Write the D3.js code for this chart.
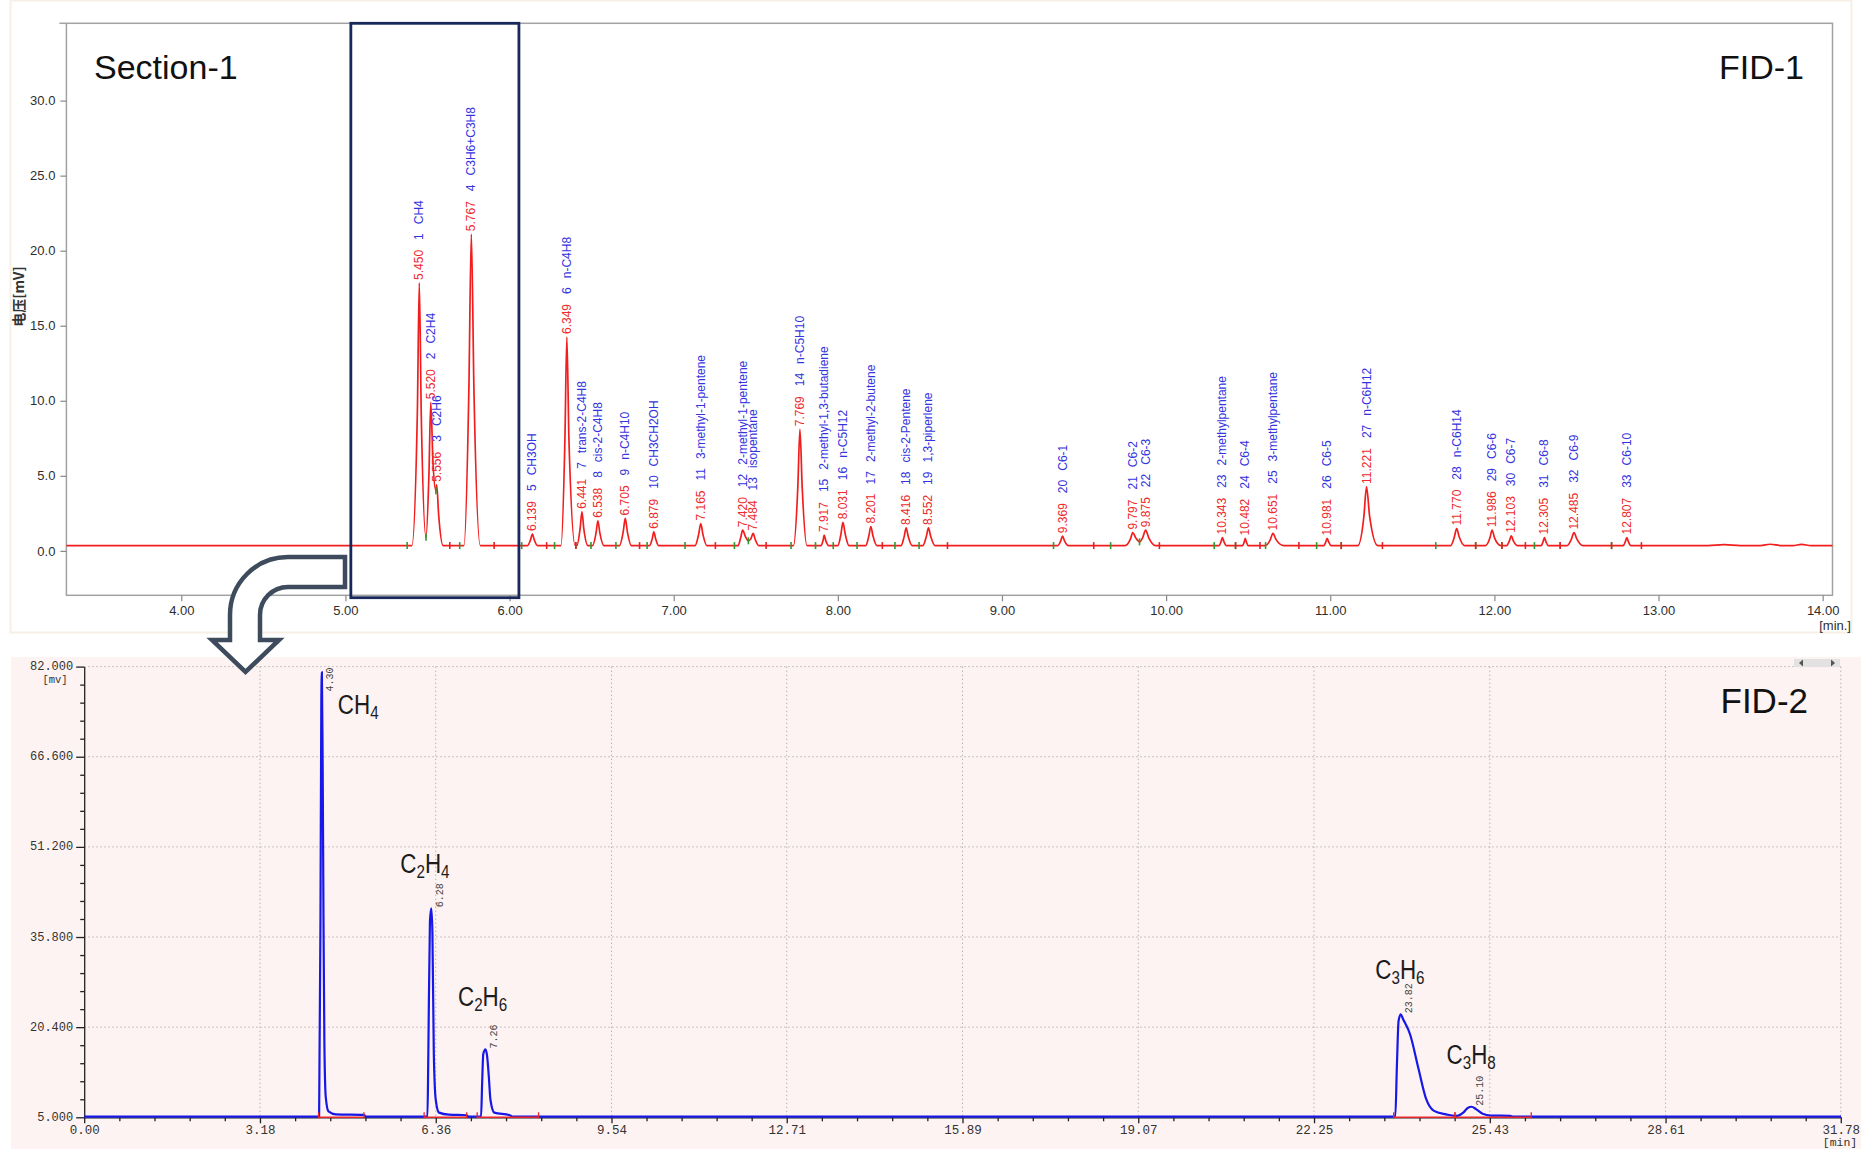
<!DOCTYPE html>
<html>
<head>
<meta charset="utf-8">
<script src="https://cdn.jsdelivr.net/npm/d3@7"></script>
<style>
  html, body { margin: 0; padding: 0; background: #fff; }
  svg { display: block; }
</style>
</head>
<body>
<svg id="chart" width="1861" height="1149"></svg>
<script>
// ---------- FID-1 (section 1) peak table ----------
const fid1Times = [5.450, 5.520, 5.556, 5.767, 6.139, 6.349, 6.441, 6.538, 6.705, 6.879,
  7.165, 7.420, 7.484, 7.769, 7.917, 8.031, 8.201, 8.416, 8.552, 9.369,
  9.797, 9.875, 10.343, 10.482, 10.651, 10.981, 11.221, 11.770, 11.986, 12.103,
  12.305, 12.485, 12.807];
const fid1Heights = [17.85, 9.9, 4.4, 21.1, 1.12, 14.25, 2.6, 2.0, 2.16, 1.27,
  1.82, 1.38, 1.16, 8.1, 1.05, 1.9, 1.62, 1.53, 1.53, 0.98,
  1.22, 1.38, 0.89, 0.83, 1.16, 0.83, 4.26, 1.49, 1.38, 1.0,
  0.89, 1.22, 0.89];
const fid1Numbers = [1, 2, 3, 4, 5, 6, 7, 8, 9, 10, 11, 12, 13, 14, 15, 16, 17, 18, 19, 20,
  21, 22, 23, 24, 25, 26, 27, 28, 29, 30, 31, 32, 33];
const fid1Names = ["CH4", "C2H4", "C2H6", "C3H6+C3H8", "CH3OH", "n-C4H8", "trans-2-C4H8",
  "cis-2-C4H8", "n-C4H10", "CH3CH2OH", "3-methyl-1-pentene", "2-methyl-1-pentene",
  "isopentane", "n-C5H10", "2-methyl-1,3-butadiene", "n-C5H12", "2-methyl-2-butene",
  "cis-2-Pentene", "1,3-piperlene", "C6-1", "C6-2", "C6-3", "2-methylpentane", "C6-4",
  "3-methylpentane", "C6-5", "n-C6H12", "n-C6H14", "C6-6", "C6-7", "C6-8", "C6-9", "C6-10"];

// FID-1 signal between the apexes: baseline, peak feet, half-height points, valleys [min, mV]
const fid1Flanks = [
  [3.30, 0.35],
  [5.405, 0.35], [5.438, 9.1], [5.462, 9.1], [5.491, 0.9],
  [5.509, 5.2], [5.533, 6.0], [5.551, 4.0],
  [5.568, 2.4], [5.595, 0.35],
  [5.722, 0.35], [5.752, 10.7], [5.783, 10.7], [5.822, 0.35],
  [6.110, 0.35], [6.128, 0.75], [6.150, 0.75], [6.170, 0.35],
  [6.313, 0.35], [6.337, 7.3], [6.362, 7.3], [6.400, 0.35],
  [6.410, 0.35], [6.430, 1.5], [6.452, 1.5], [6.478, 0.35],
  [6.505, 0.35], [6.527, 1.2], [6.550, 1.2], [6.575, 0.35],
  [6.670, 0.35], [6.692, 1.25], [6.718, 1.25], [6.742, 0.35],
  [6.853, 0.35], [6.869, 0.8], [6.890, 0.8], [6.908, 0.35],
  [7.130, 0.35], [7.152, 1.1], [7.178, 1.1], [7.202, 0.35],
  [7.392, 0.35], [7.408, 0.87], [7.437, 0.95], [7.455, 0.67], [7.470, 0.8], [7.497, 0.75], [7.518, 0.35],
  [7.730, 0.35], [7.756, 4.2], [7.783, 4.2], [7.812, 0.35],
  [7.898, 0.35], [7.910, 0.7], [7.926, 0.7], [7.945, 0.35],
  [8.000, 0.35], [8.019, 1.12], [8.045, 1.12], [8.068, 0.35],
  [8.170, 0.35], [8.189, 1.0], [8.214, 1.0], [8.238, 0.35],
  [8.385, 0.35], [8.404, 0.95], [8.429, 0.95], [8.452, 0.35],
  [8.518, 0.35], [8.539, 0.95], [8.566, 0.95], [8.592, 0.35],
  [9.340, 0.35], [9.358, 0.67], [9.381, 0.67], [9.405, 0.35],
  [9.750, 0.35], [9.783, 0.8], [9.816, 0.85], [9.838, 0.6], [9.858, 0.9], [9.895, 0.85], [9.935, 0.35],
  [10.322, 0.35], [10.335, 0.62], [10.352, 0.62], [10.368, 0.35],
  [10.465, 0.35], [10.476, 0.6], [10.489, 0.6], [10.500, 0.35],
  [10.605, 0.35], [10.635, 0.75], [10.670, 0.75], [10.718, 0.35],
  [10.960, 0.35], [10.973, 0.6], [10.990, 0.6], [11.005, 0.35],
  [11.168, 0.35], [11.205, 2.3], [11.240, 2.3], [11.290, 0.35],
  [11.733, 0.35], [11.756, 0.92], [11.786, 0.92], [11.818, 0.35],
  [11.946, 0.35], [11.973, 0.87], [12.001, 0.87], [12.040, 0.35],
  [12.075, 0.35], [12.092, 0.68], [12.115, 0.68], [12.140, 0.35],
  [12.285, 0.35], [12.297, 0.62], [12.314, 0.62], [12.328, 0.35],
  [12.443, 0.35], [12.470, 0.8], [12.502, 0.8], [12.540, 0.35],
  [12.785, 0.35], [12.798, 0.62], [12.816, 0.62], [12.832, 0.35],
  [13.30, 0.35], [13.40, 0.41], [13.50, 0.35], [13.62, 0.35], [13.68, 0.44], [13.75, 0.35],
  [13.82, 0.35], [13.87, 0.43], [13.93, 0.35], [14.06, 0.35]
];

// integration start (green) and end (red) events [min, mV]
const fid1StartMarks = [[5.376, 0.35], [5.491, 0.9], [5.551, 4.0], [5.696, 0.35], [6.074, 0.35],
  [6.274, 0.35], [6.404, 0.35], [6.496, 0.35], [6.648, 0.35], [6.838, 0.35], [7.069, 0.35],
  [7.370, 0.35], [7.455, 0.67], [7.715, 0.35], [7.864, 0.35], [7.972, 0.35], [8.117, 0.35],
  [8.348, 0.35], [8.495, 0.35], [9.314, 0.35], [9.662, 0.35], [9.838, 0.6], [10.293, 0.35],
  [10.423, 0.35], [10.606, 0.35], [10.917, 0.35], [11.067, 0.35], [11.643, 0.35], [11.886, 0.35],
  [12.046, 0.35], [12.244, 0.35], [12.401, 0.35], [12.714, 0.35]];
const fid1EndMarks = [[5.636, 0.35], [5.906, 0.35], [6.226, 0.35], [6.404, 0.35], [6.792, 0.35],
  [7.254, 0.35], [7.563, 0.35], [8.271, 0.35], [8.668, 0.35], [9.559, 0.35], [9.959, 0.35],
  [10.423, 0.35], [10.572, 0.35], [10.809, 0.35], [11.067, 0.35], [11.318, 0.35], [11.886, 0.35],
  [12.046, 0.35], [12.189, 0.35], [12.401, 0.35], [12.714, 0.35], [12.896, 0.35]];

const fid1YTicks = [0, 5, 10, 15, 20, 25, 30];
const fid1XTicks = [4, 5, 6, 7, 8, 9, 10, 11, 12, 13, 14];

// ---------- FID-2 peak table ----------
const fid2Times = [4.30, 6.28, 7.26, 23.82, 25.10];
const fid2Heights = [81.0, 40.7, 16.6, 22.6, 6.8];
const fid2Labels = ["4.30", "6.28", "7.26", "23.82", "25.10"];
const fid2Names = ["CH4", "C2H4", "C2H6", "C3H6", "C3H8"];

const fid2Flanks = [
  [0, 5.1],
  [4.25, 5.1], [4.275, 40], [4.29, 76], [4.315, 64], [4.33, 38], [4.345, 18], [4.37, 8.5],
  [4.42, 6.0], [4.55, 5.5], [5.06, 5.4], [5.10, 5.1],
  [6.21, 5.1], [6.225, 15], [6.255, 38.5], [6.30, 36.5], [6.325, 16], [6.36, 8], [6.42, 5.8],
  [6.60, 5.45], [6.92, 5.35], [6.95, 5.1],
  [7.18, 5.1], [7.20, 11], [7.22, 15.8], [7.29, 15.4], [7.32, 12], [7.35, 8], [7.42, 5.8],
  [7.70, 5.35], [7.75, 5.1],
  [23.72, 5.1], [23.75, 14], [23.78, 21.5], [23.86, 21.8], [23.99, 19.1], [24.14, 13.3],
  [24.28, 8.1], [24.42, 6.1], [24.64, 5.5], [24.80, 5.25],
  [24.86, 5.3], [24.95, 5.8], [25.03, 6.6], [25.18, 6.4], [25.30, 5.6], [25.45, 5.3],
  [25.80, 5.25], [25.85, 5.1],
  [31.784, 5.1]
];
// integration baselines [from, to] in minutes
const fid2Baselines = [[4.24, 5.06], [6.15, 6.92], [7.11, 8.22], [23.69, 24.80], [24.80, 26.18]];

const fid2YTicks = ["5.000", "20.400", "35.800", "51.200", "66.600", "82.000"];
const fid2XTicks = ["0.00", "3.18", "6.36", "9.54", "12.71", "15.89", "19.07", "22.25", "25.43", "28.61", "31.78"];

// ---------- drawing ----------
const W = 1861, H = 1149;
const sans = "'Liberation Sans', Arial, sans-serif";
const mono = "'Liberation Mono', 'DejaVu Sans Mono', monospace";
const svg = d3.select("#chart");

svg.append("rect").attr("width", W).attr("height", H).attr("fill", "#fff");
// faint frame around the upper chromatogram image
svg.append("rect").attr("x", 10.5).attr("y", 0.5).attr("width", 1841).attr("height", 632)
  .attr("fill", "none").attr("stroke", "#f7efe5").attr("stroke-width", 2);
// tinted background of the lower chromatogram
svg.append("rect").attr("x", 11).attr("y", 657).attr("width", W - 11).attr("height", H - 657)
  .attr("fill", "#fdf3f2");

// ===== upper panel: FID-1 =====
const x1 = d3.scaleLinear().domain([3.30, 14.06]).range([66.4, 1832.5]);
const y1 = d3.scaleLinear().domain([-2.96, 35.15]).range([595.3, 23.3]);
const upper = svg.append("g");

upper.append("rect")
  .attr("x", x1.range()[0]).attr("y", y1.range()[1])
  .attr("width", x1.range()[1] - x1.range()[0]).attr("height", y1.range()[0] - y1.range()[1])
  .attr("fill", "#fff").attr("stroke", "#a2a2a2").attr("stroke-width", 1.5);
upper.append("line").attr("x1", x1.range()[0] - 7).attr("x2", x1.range()[0])
  .attr("y1", y1.range()[1]).attr("y2", y1.range()[1]).attr("stroke", "#a2a2a2").attr("stroke-width", 1.5);

const gy1 = upper.append("g").attr("transform", `translate(${x1.range()[0]},0)`)
  .call(d3.axisLeft(y1).tickValues(fid1YTicks).tickFormat(d3.format(".1f")).tickSize(6).tickSizeOuter(0).tickPadding(5));
const gx1 = upper.append("g").attr("transform", `translate(0,${y1.range()[0]})`)
  .call(d3.axisBottom(x1).tickValues(fid1XTicks).tickFormat(d3.format(".2f")).tickSize(6).tickSizeOuter(0).tickPadding(4));
[gy1, gx1].forEach(g => {
  g.select(".domain").remove();
  g.selectAll(".tick line").attr("stroke", "#888").attr("stroke-width", 1.2);
  g.selectAll(".tick text").attr("fill", "#2e2e2e").style("font", `13px ${sans}`);
});

upper.append("text").attr("x", 1851).attr("y", 630).attr("text-anchor", "end")
  .attr("fill", "#2e2e2e").style("font", `13px ${sans}`).text("[min.]");
upper.append("text").attr("transform", "translate(18,296.5) rotate(-90)")
  .attr("text-anchor", "middle").attr("dominant-baseline", "central")
  .attr("fill", "#333").style("font", `bold 14px 'Noto Sans CJK SC', ${sans}`).text("电压[mV]");

const fid1Apex = fid1Times.map((t, i) => [t, fid1Heights[i]]);
const fid1Trace = fid1Flanks.concat(fid1Apex).sort((a, b) => a[0] - b[0]);
const line1 = d3.line().x(d => x1(d[0])).y(d => y1(d[1])).curve(d3.curveMonotoneX);
upper.append("path").datum(fid1Trace).attr("d", line1)
  .attr("fill", "none").attr("stroke", "#f21d1d").attr("stroke-width", 1.7);

const markLen = 3.5;
upper.selectAll(".mstart").data(fid1StartMarks).join("line")
  .attr("x1", d => x1(d[0])).attr("x2", d => x1(d[0]))
  .attr("y1", d => y1(d[1]) - markLen).attr("y2", d => y1(d[1]) + markLen)
  .attr("stroke", "#2e9a2e").attr("stroke-width", 1.6);
upper.selectAll(".mend").data(fid1EndMarks).join("line")
  .attr("x1", d => x1(d[0])).attr("x2", d => x1(d[0]))
  .attr("y1", d => y1(d[1]) - markLen).attr("y2", d => y1(d[1]) + markLen)
  .attr("stroke", "#e02424").attr("stroke-width", 1.6);

// rotated peak annotations: retention time, peak number, component name
const lbl = upper.selectAll(".plabel").data(fid1Times).join("text")
  .attr("transform", (t, i) => `translate(${x1(t)},${y1(fid1Heights[i]) - 3}) rotate(-90)`)
  .attr("dominant-baseline", "central")
  .style("font", `12px ${sans}`);
lbl.append("tspan").attr("fill", "#ee2a2a").text(t => t.toFixed(3));
lbl.append("tspan").attr("fill", "#3434de").attr("dx", 10).text((t, i) => fid1Numbers[i]);
lbl.append("tspan").attr("fill", "#3434de").attr("dx", 9).text((t, i) => fid1Names[i]);

// highlighted window around the first section
upper.append("rect")
  .attr("x", x1(5.033)).attr("y", y1.range()[1])
  .attr("width", x1(6.057) - x1(5.033)).attr("height", 597.7 - y1.range()[1])
  .attr("fill", "none").attr("stroke", "#17285a").attr("stroke-width", 2.8);

upper.append("text").attr("x", 94).attr("y", 79).attr("fill", "#111")
  .style("font", `34px ${sans}`).text("Section-1");
upper.append("text").attr("x", 1719).attr("y", 79).attr("fill", "#111")
  .style("font", `34px ${sans}`).text("FID-1");

// ===== lower panel: FID-2 =====
const x2 = d3.scaleLinear().domain([0, 31.784]).range([84.2, 1841]);
const y2 = d3.scaleLinear().domain([5, 82]).range([1117.3, 666.6]);
const lower = svg.append("g");

const yMajor = fid2YTicks.map(Number);
const xMajor = fid2XTicks.map(Number);
const subdivide = arr => d3.pairs(arr).flatMap(([a, b]) => d3.range(1, 5).map(k => a + (b - a) * k / 5));
const yMinor = subdivide(yMajor);
const xMinor = subdivide(xMajor);

// dotted grid
lower.selectAll(".gx").data(xMajor.slice(1)).join("line")
  .attr("x1", d => x2(d)).attr("x2", d => x2(d)).attr("y1", y2(82)).attr("y2", y2(5))
  .attr("stroke", "#b9b4b4").attr("stroke-width", 1).attr("stroke-dasharray", "1.5,2.5");
lower.selectAll(".gy").data(yMajor.slice(1)).join("line")
  .attr("x1", x2(0)).attr("x2", x2(31.78)).attr("y1", d => y2(d)).attr("y2", d => y2(d))
  .attr("stroke", "#b9b4b4").attr("stroke-width", 1).attr("stroke-dasharray", "1.5,2.5");

const gy2 = lower.append("g").attr("transform", `translate(${x2(0)},0)`)
  .call(d3.axisLeft(y2).tickValues(yMajor).tickFormat((d, i) => fid2YTicks[i]).tickSize(8).tickSizeOuter(0).tickPadding(3));
lower.append("g").attr("transform", `translate(${x2(0)},0)`)
  .call(d3.axisLeft(y2).tickValues(yMinor).tickFormat("").tickSize(4).tickSizeOuter(0))
  .select(".domain").remove();
const gx2 = lower.append("g").attr("transform", `translate(0,${y2(5)})`)
  .call(d3.axisBottom(x2).tickValues(xMajor).tickFormat((d, i) => fid2XTicks[i]).tickSize(6).tickSizeOuter(0).tickPadding(1.5));
lower.append("g").attr("transform", `translate(0,${y2(5)})`)
  .call(d3.axisBottom(x2).tickValues(xMinor).tickFormat("").tickSize(4).tickSizeOuter(0))
  .select(".domain").remove();
lower.selectAll(".domain").attr("stroke", "#222").attr("stroke-width", 1.3);
lower.selectAll(".tick line").attr("stroke", "#222").attr("stroke-width", 1.3);
gy2.selectAll(".tick text").attr("fill", "#333").attr("dy", "0.25em").style("font", `12px ${mono}`);
gx2.selectAll(".tick text").attr("fill", "#333").style("font", `12.5px ${mono}`);

lower.append("text").attr("x", 55).attr("y", 683).attr("text-anchor", "middle")
  .attr("fill", "#333").style("font", `10.5px ${mono}`).text("[mv]");
lower.append("text").attr("x", 1840).attr("y", 1146).attr("text-anchor", "middle")
  .attr("fill", "#333").style("font", `11.5px ${mono}`).text("[min]");

// small scroll control in the corner
lower.append("rect").attr("x", 1794).attr("y", 659).attr("width", 46).attr("height", 8).attr("fill", "#e3e1e1");
lower.append("path").attr("d", "M1803,659.5 L1799,663 L1803,666.5 Z").attr("fill", "#555");
lower.append("path").attr("d", "M1831,659.5 L1835,663 L1831,666.5 Z").attr("fill", "#555");

const fid2Apex = fid2Times.map((t, i) => [t, fid2Heights[i]]);
const fid2Trace = fid2Flanks.concat(fid2Apex).sort((a, b) => a[0] - b[0]);
const line2 = d3.line().x(d => x2(d[0])).y(d => y2(d[1])).curve(d3.curveMonotoneX);
lower.append("path").datum(fid2Trace).attr("d", line2)
  .attr("fill", "none").attr("stroke", "#1717e8").attr("stroke-width", 2.2);

// integration baselines with end ticks
fid2Baselines.forEach(([a, b]) => {
  lower.append("line").attr("x1", x2(a)).attr("x2", x2(b)).attr("y1", y2(5)).attr("y2", y2(5))
    .attr("stroke", "#e8262c").attr("stroke-width", 1.5);
  [a, b].forEach(t => lower.append("line").attr("x1", x2(t)).attr("x2", x2(t))
    .attr("y1", y2(5) - 5).attr("y2", y2(5) + 1).attr("stroke", "#e8262c").attr("stroke-width", 1.3));
});

// retention-time labels next to each apex
fid2Times.forEach((t, i) => {
  const tx = lower.append("text").attr("dominant-baseline", "central")
    .attr("fill", "#444").style("font", `10px ${mono}`).text(fid2Labels[i]);
  const len = tx.node().getComputedTextLength();
  const yStart = Math.max(y2(fid2Heights[i]) - 1, y2(82) + len + 1);
  tx.attr("transform", `translate(${x2(t) + 9},${yStart}) rotate(-90)`);
});

// component names with subscripted digits
const nameOffsets = [[16, 42], [-31, -35], [-27.5, -43], [-25.5, -35.5], [-25, -43]];
fid2Names.forEach((name, i) => {
  const g = lower.append("g")
    .attr("transform", `translate(${x2(fid2Times[i]) + nameOffsets[i][0]},${y2(fid2Heights[i]) + nameOffsets[i][1]}) scale(0.8,1)`);
  const tx = g.append("text").attr("fill", "#1c1c1c").style("font", `28px ${sans}`);
  let sub = false;
  name.split(/(\d+)/).filter(s => s.length).forEach(part => {
    const isNum = /^\d+$/.test(part);
    const ts = tx.append("tspan").text(part);
    if (isNum && !sub) { ts.attr("dy", 5).style("font-size", "19px"); sub = true; }
    else if (!isNum && sub) { ts.attr("dy", -5); sub = false; }
  });
});

lower.append("text").attr("x", 1720.5).attr("y", 713).attr("fill", "#111")
  .style("font", `35px ${sans}`).text("FID-2");

// bent arrow leading from the highlighted window down to the lower chromatogram
svg.append("path")
  .attr("d", "M345,557 L288,557 A58,58 0 0 0 230,615 L230,640 L212,640 L245.5,672 L279,640 L260,640 L260,615 A28,28 0 0 1 288,587 L345,587 Z")
  .attr("fill", "#fff").attr("stroke", "#3d4b5c").attr("stroke-width", 4.5).attr("stroke-linejoin", "miter");
</script>
</body>
</html>
